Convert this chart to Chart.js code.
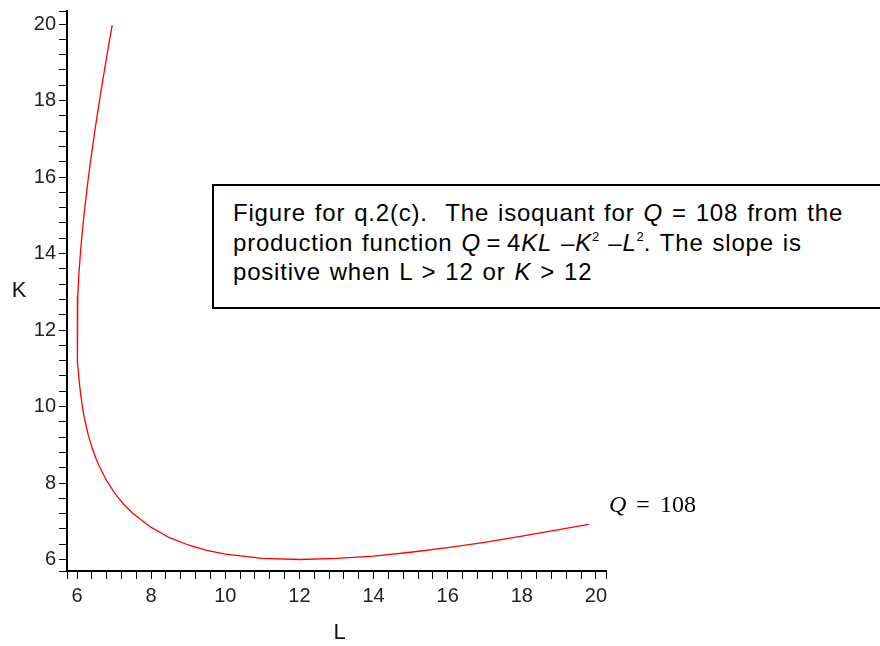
<!DOCTYPE html>
<html>
<head>
<meta charset="utf-8">
<script src="https://cdn.jsdelivr.net/npm/chart.js@4.4.1/dist/chart.umd.min.js"></script>
<style>
  body { margin: 0; background: #fff; overflow: hidden; }
  #wrap { position: relative; width: 880px; height: 646px; }
  #note {
    position: absolute; left: 212px; top: 184px; width: 700px; height: 125px;
    border: 2px solid #000; padding: 12px 0 0 19px; box-sizing: border-box;
    font-family: "Liberation Sans", Arial, sans-serif; font-size: 24px; line-height: 29.5px;
    letter-spacing: 0.8px; word-spacing: 1.5px;
    color: #000; background: #fff; white-space: nowrap;
  }
  #note i { font-style: italic; }
  #note sup { font-size: 13px; vertical-align: 10px; line-height: 0; letter-spacing: 0; }
  #qlabel {
    position: absolute; left: 609px; top: 492px;
    font-family: "Liberation Serif", "Times New Roman", serif; font-size: 24px; line-height: 24px;
    word-spacing: 4px; white-space: nowrap; color: #000;
  }
</style>
</head>
<body>
<div id="wrap">
  <canvas id="isoChart" width="880" height="646"></canvas>
  <div id="note">Figure for q.2(c).&nbsp; The isoquant for <i>Q</i> = 108 from the<br>production function <i>Q</i>&#8201;=&#8201;4<i>KL</i> &#8211;<i>K</i><sup>2</sup> &#8211;<i>L</i><sup>2</sup>. The slope is<br>positive when L &gt; 12 or <i>K</i> &gt; 12</div>
  <div id="qlabel"><i>Q</i> = 108</div>
</div>
<script>
// isoquant points (L across, K up)
const curveL = [6.95, 6.9, 6.8, 6.7, 6.6, 6.5, 6.4, 6.3, 6.2, 6.15, 6.1, 6.05, 6.02, 6.0,
  6.02, 6.05, 6.1, 6.15, 6.2, 6.3, 6.4, 6.5, 6.6, 6.8, 7.0, 7.25, 7.5, 8.0, 8.5, 9.0,
  9.5, 10, 11, 12, 13, 14, 15, 16, 17, 18, 19, 19.8];
const curveK = [19.97, 19.70, 19.14, 18.56, 17.96, 17.33, 16.66, 15.93, 15.11, 14.64, 14.11, 13.45, 12.89, 12.0,
  11.19, 10.75, 10.30, 9.96, 9.69, 9.27, 8.94, 8.67, 8.44, 8.06, 7.76, 7.45, 7.21, 6.84, 6.57, 6.38,
  6.24, 6.14, 6.03, 6.00, 6.03, 6.09, 6.19, 6.31, 6.45, 6.61, 6.78, 6.92];

const xTickLabels = [6, 8, 10, 12, 14, 16, 18, 20];
const yTickLabels = [6, 8, 10, 12, 14, 16, 18, 20];
const xRange = [5.73, 20.27];
const yRange = [5.70, 20.34];
const minorStep = 0.4;

const points = curveL.map((l, i) => ({ x: l, y: curveK[i] }));

function minorTicks(scale, labels, range) {
  const ticks = [{ value: range[0] }];
  const first = labels[0], last = labels[labels.length - 1];
  const n = Math.round((last - first) / minorStep);
  for (let i = 0; i <= n; i++) {
    ticks.push({ value: Math.round((first + i * minorStep) * 100) / 100 });
  }
  ticks.push({ value: range[1] });
  scale.ticks = ticks;
}

function tickText(labels) {
  return v => labels.includes(v) ? String(v) : "";
}

const axisTitles = {
  id: "axisTitles",
  afterDraw(chart) {
    const ctx = chart.ctx;
    ctx.save();
    ctx.fillStyle = "#111";
    ctx.font = "22px 'Liberation Sans', Arial, sans-serif";
    ctx.textAlign = "center";
    ctx.textBaseline = "middle";
    ctx.fillText("K", 19, 291);
    ctx.fillText("L", 339.5, 633);
    ctx.restore();
  }
};

const tickFont = { family: "'Liberation Sans', Arial, sans-serif", size: 20 };

new Chart(document.getElementById("isoChart").getContext("2d"), {
  type: "scatter",
  data: {
    datasets: [{
      data: points,
      showLine: true,
      borderColor: "#ff0000",
      borderWidth: 1.3,
      pointRadius: 0,
      fill: false
    }]
  },
  options: {
    responsive: false,
    animation: false,
    layout: { padding: { left: 0, top: 11, right: 274, bottom: 0 } },
    plugins: { legend: { display: false }, tooltip: { enabled: false } },
    scales: {
      x: {
        type: "linear",
        min: xRange[0],
        max: xRange[1],
        afterBuildTicks: s => minorTicks(s, xTickLabels, xRange),
        afterFit: s => { s.height = 75; s.paddingLeft = 0; s.paddingRight = 0; },
        ticks: { autoSkip: false, maxRotation: 0, padding: 5, color: "#222", font: tickFont,
                 callback: tickText(xTickLabels) },
        grid: { drawOnChartArea: false, color: "#000", tickLength: 8, lineWidth: 1 },
        border: { color: "#000", width: 2 }
      },
      y: {
        type: "linear",
        min: yRange[0],
        max: yRange[1],
        afterBuildTicks: s => minorTicks(s, yTickLabels, yRange),
        afterFit: s => { s.width = 67; s.paddingTop = 0; s.paddingBottom = 0; },
        ticks: { autoSkip: false, padding: 3, color: "#222", font: tickFont,
                 callback: tickText(yTickLabels) },
        grid: { drawOnChartArea: false, color: "#000", tickLength: 8, lineWidth: 1 },
        border: { color: "#000", width: 2 }
      }
    }
  },
  plugins: [axisTitles]
});
</script>
</body>
</html>
